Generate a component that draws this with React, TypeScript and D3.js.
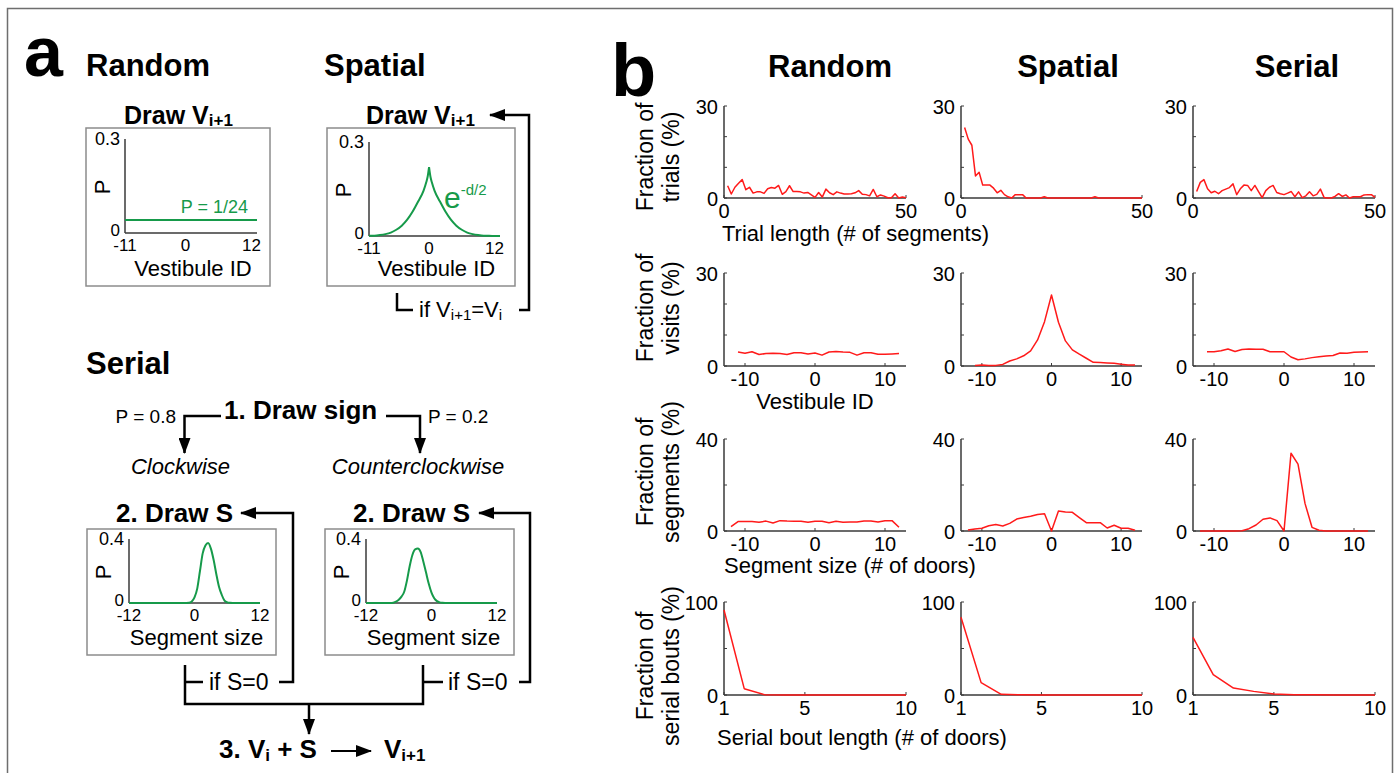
import React from "react";
import * as d3 from "d3";

const FONT = "'Liberation Sans', Arial, Helvetica, sans-serif";
const RED = "#ff1a1a";
const GREEN = "#169a4a";
const AXIS = "#3a3a3a";

// ---------------- panel b data ----------------
const columnTitles = ["Random", "Spatial", "Serial"];

const trialLengths = d3.range(1, 51);
const trialRandom = [
  4.0, 1.3, 3.5, 4.8, 6.0, 2.7, 3.5, 1.6, 2.0, 2.0,
  1.5, 3.0, 3.4, 3.2, 4.1, 1.2, 2.1, 4.0, 2.1, 2.1,
  2.0, 1.6, 1.8, 1.0, 0.2, 1.8, 0.3, 2.9, 1.7, 1.1,
  2.0, 1.6, 1.3, 1.3, 1.4, 1.7, 2.4, 1.2, 1.1, 0.7,
  2.8, 0.4, 1.0, 0.6, 0.1, 0.1, 1.4, 0.0, 0.3, 0.1,
];
const trialSpatial = [
  23, 19.2, 17.2, 7.2, 8.4, 4.2, 4.2, 4.2, 3.2, 1.7,
  2.5, 1.1, 0.4, 0, 1.1, 1.1, 1.1, 0, 0, 0,
  0, 0, 0.4, 0, 0, 0, 0, 0, 0, 0,
  0, 0, 0, 0, 0, 0, 0.4, 0, 0, 0,
  0, 0, 0, 0, 0, 0, 0, 0, 0, 0,
];
const trialSerial = [
  2.1, 5.1, 6.0, 3.0, 1.7, 2.2, 1.4, 2.4, 2.9, 3.4,
  4.6, 1.1, 3.0, 4.2, 4.1, 2.4, 4.1, 2.1, 0.1, 2.4,
  3.5, 4.1, 1.8, 1.4, 1.1, 1.6, 2.1, 0.4, 2.0, 0.1,
  0.7, 2.0, 0.7, 1.2, 2.9, 0.2, 0, 0, 0.5, 1.4,
  0.5, 1.0, 0, 0.4, 0.4, 0.4, 1.0, 1.1, 1.1, 0.2,
];

const vestibuleIds = d3.range(-11, 13);
const visitRandom = [4.5, 4.1, 4.6, 3.7, 4.0, 4.1, 4.0, 3.7, 4.3, 4.3, 3.9, 4.2, 3.5, 4.5, 4.7, 4.5, 4.4, 3.5, 4.3, 4.3, 3.8, 3.8, 3.9, 4.0];
const visitSpatial = [0.2, 0.3, 0.2, 0.2, 0.5, 1.6, 2.3, 3.3, 4.9, 8.4, 14.3, 22.9, 14.1, 8.1, 5.2, 3.8, 2.5, 1.2, 1.1, 1.0, 0.9, 0.6, 0.3, 0.3];
const visitSerial = [4.6, 4.6, 4.9, 5.5, 4.7, 5.3, 5.5, 5.4, 5.4, 4.6, 4.6, 4.6, 2.9, 2.0, 2.3, 2.7, 3.0, 3.2, 3.4, 4.2, 4.1, 4.4, 4.5, 4.6];

const segmentSizes = d3.range(-12, 13);
const segRandom = [1.9, 4.1, 4.1, 4.1, 3.8, 4.3, 3.5, 4.5, 4.3, 4.2, 4.2, 3.8, 4.2, 4.2, 3.6, 4.2, 3.8, 3.9, 3.9, 4.3, 4.3, 3.9, 4.5, 4.5, 1.6];
const segSpatial = [0.4, 0.9, 1.2, 2.3, 2.8, 2.2, 3.3, 5.2, 5.9, 6.4, 7.2, 7.5, 0, 8.7, 8.3, 8.1, 5.8, 3.6, 3.6, 3.6, 1.3, 2.5, 1.2, 1.2, 0.3];
const segSerial = [0, 0, 0, 0, 0, 0, 0.1, 1.0, 2.6, 5.1, 5.7, 4.5, 0, 33.8, 29.1, 12.0, 1.6, 0.3, 0, 0, 0, 0, 0, 0, 0];

const boutLengths = d3.range(1, 11);
const boutRandom = [91.4, 6.8, 0.4, 0, 0, 0, 0, 0, 0, 0];
const boutSpatial = [83.5, 13.3, 0.7, 0.2, 0, 0, 0, 0, 0, 0];
const boutSerial = [62, 21.9, 7.5, 3.9, 1.0, 0.3, 0.2, 0, 0, 0];

// ---------------- panel a data ----------------
const uniformP = 1 / 24;
const kernelD = [-11, -10, -9, -8, -7, -6, -5, -4, -3, -2, -1, -0.5, -0.25, 0, 0.25, 0.5, 1, 2, 3, 4, 5, 6, 7, 8, 9, 10, 11, 12, 13];
const kernelP = [0.0005, 0.001, 0.003, 0.006, 0.011, 0.02, 0.033, 0.052, 0.078, 0.11, 0.145, 0.172, 0.19, 0.22, 0.19, 0.172, 0.145, 0.11, 0.078, 0.052, 0.033, 0.02, 0.011, 0.006, 0.003, 0.001, 0.0005, 0.0003, 0.0002];

const cwS = [-12, -2, -1, -0.5, 0, 0.5, 1, 1.5, 2, 2.5, 3, 3.5, 4, 4.5, 5, 5.5, 6, 6.5, 7, 12];
const cwP = [0, 0, 0.002, 0.01, 0.035, 0.09, 0.2, 0.31, 0.36, 0.375, 0.34, 0.27, 0.18, 0.1, 0.05, 0.015, 0.004, 0.001, 0, 0];
const ccwS = [-12, -7.5, -7, -6.5, -6, -5.5, -5, -4.5, -4, -3.5, -3, -2.5, -2, -1.5, -1, -0.5, 0, 0.5, 1, 1.5, 2, 2.5, 12];
const ccwP = [0, 0, 0.002, 0.008, 0.02, 0.04, 0.07, 0.14, 0.23, 0.3, 0.335, 0.34, 0.32, 0.26, 0.19, 0.12, 0.065, 0.03, 0.012, 0.004, 0.001, 0, 0];

// ---------------- layout ----------------
const colX = [[724, 906], [961, 1142], [1193, 1375]];

const rowsB = [
  {
    y: [198, 106], xDomain: [0, 50], yDomain: [0, 30], yTicks: [0, 10, 20, 30], xLabels: [0, 50],
    xs: trialLengths, series: [trialRandom, trialSpatial, trialSerial],
    ylab: ["Fraction of", "trials (%)"], ylabY: 157,
    xlab: "Trial length (# of segments)", xlabX: 722, xlabY: 241, anchor: "start",
  },
  {
    y: [366, 273], xDomain: [-13, 13], yDomain: [0, 30], yTicks: [0, 10, 20, 30], xLabels: [-10, 0, 10],
    xs: vestibuleIds, series: [visitRandom, visitSpatial, visitSerial],
    ylab: ["Fraction of", "visits (%)"], ylabY: 308,
    xlab: "Vestibule ID", xlabX: 815, xlabY: 409, anchor: "middle",
  },
  {
    y: [531, 439], xDomain: [-13, 13], yDomain: [0, 40], yTicks: [0, 20, 40], xLabels: [-10, 0, 10],
    xs: segmentSizes, series: [segRandom, segSpatial, segSerial],
    ylab: ["Fraction of", "segments (%)"], ylabY: 472,
    xlab: "Segment size (# of doors)", xlabX: 724, xlabY: 573, anchor: "start",
  },
  {
    y: [695, 602], xDomain: [1, 10], yDomain: [0, 100], yTicks: [0, 50, 100], xLabels: [1, 5, 10],
    xs: boutLengths, series: [boutRandom, boutSpatial, boutSerial],
    ylab: ["Fraction of", "serial bouts (%)"], ylabY: 666,
    xlab: "Serial bout length (# of doors)", xlabX: 717, xlabY: 745, anchor: "start",
  },
];

function CellB({ row, ci }: any) {
  const [x0, x1] = colX[ci];
  const x = d3.scaleLinear().domain(row.xDomain).range([x0, x1]);
  const y = d3.scaleLinear().domain(row.yDomain).range(row.y);
  const line = d3
    .line<number>()
    .x((_, i) => x(row.xs[i]))
    .y((d) => y(d));
  const yTop = row.yTicks[row.yTicks.length - 1];
  return (
    <g>
      <line x1={x0} x2={x1} y1={row.y[0]} y2={row.y[0]} stroke={AXIS} strokeWidth={1.5} />
      <line x1={x0} x2={x0} y1={row.y[0]} y2={row.y[1]} stroke={AXIS} strokeWidth={1.5} />
      {row.yTicks.map((t: number) => (
        <line key={"yt" + t} x1={x0} x2={x0 + 3} y1={y(t)} y2={y(t)} stroke={AXIS} strokeWidth={1} />
      ))}
      {row.xLabels.map((t: number) => (
        <line key={"xt" + t} x1={x(t)} x2={x(t)} y1={row.y[0]} y2={row.y[0] - 3} stroke={AXIS} strokeWidth={1} />
      ))}
      {[row.yDomain[0], yTop].map((t: number) => (
        <text key={"yl" + t} x={x0 - 6} y={y(t) + 8} textAnchor="end" fontSize={20}>
          {t}
        </text>
      ))}
      {row.xLabels.map((t: number) => (
        <text key={"xl" + t} x={x(t)} y={row.y[0] + 20} textAnchor="middle" fontSize={20}>
          {t}
        </text>
      ))}
      <path d={line(row.series[ci]) || ""} fill="none" stroke={RED} strokeWidth={1.5} strokeLinejoin="round" />
    </g>
  );
}

function Arrow({ pts, w = 2.5 }: { pts: number[][]; w?: number }) {
  return (
    <polyline
      points={pts.map((p) => p.join(",")).join(" ")}
      fill="none"
      stroke="#000"
      strokeWidth={w}
      markerEnd="url(#ah)"
    />
  );
}

function Poly({ pts }: { pts: number[][] }) {
  return <polyline points={pts.map((p) => p.join(",")).join(" ")} fill="none" stroke="#000" strokeWidth={2.5} />;
}

function SmallBox({ box, ax, xDomain, yRange, yTop, xTicks, xlab, children }: any) {
  const x = d3.scaleLinear().domain(xDomain).range(ax);
  const y = d3.scaleLinear().domain([0, yTop]).range(yRange);
  return (
    <g>
      <rect x={box[0]} y={box[1]} width={box[2] - box[0]} height={box[3] - box[1]} fill="#fff" stroke="#8c8c8c" strokeWidth={1.5} />
      <line x1={ax[0]} x2={ax[1]} y1={yRange[0]} y2={yRange[0]} stroke={AXIS} strokeWidth={1.5} />
      <line x1={ax[0]} x2={ax[0]} y1={yRange[0]} y2={yRange[1]} stroke={AXIS} strokeWidth={1.5} />
      <text x={ax[0] - 5} y={y(yTop) + 6} textAnchor="end" fontSize={18}>{yTop}</text>
      <text x={ax[0] - 5} y={y(0) + 3} textAnchor="end" fontSize={17}>0</text>
      {xTicks.map((t: number) => (
        <text key={t} x={x(t)} y={yRange[0] + 18} textAnchor="middle" fontSize={17}>{t}</text>
      ))}
      <text x={(ax[0] + ax[1]) / 2 + 2} y={box[3] - 10} textAnchor="middle" fontSize={22}>{xlab}</text>
      <text transform={`translate(${box[0] + 24},${(yRange[0] + yRange[1]) / 2 + 1}) rotate(-90)`} textAnchor="middle" fontSize={22}>P</text>
      {children(x, y)}
    </g>
  );
}

export default function App() {
  const curve = (xsArr: number[], ysArr: number[], x: any, y: any) =>
    d3
      .line<number>()
      .x((_, i) => x(xsArr[i]))
      .y((d) => y(d))
      .curve(d3.curveMonotoneX)(ysArr) || "";

  const zeroIdx = kernelD.indexOf(0);

  return (
    <svg width={1400} height={773} style={{ position: "absolute", left: 0, top: 0, background: "#fff" }} fontFamily={FONT}>
      <defs>
        <marker id="ah" markerUnits="userSpaceOnUse" markerWidth={16} markerHeight={12} refX={15} refY={6} orient="auto">
          <path d="M0,0 L16,6 L0,12 Z" fill="#000" />
        </marker>
      </defs>
      <rect width={1400} height={773} fill="#fff" />
      <path d="M7.5,773 V8.5 H1392.5 V773" fill="none" stroke="#6e6e6e" strokeWidth={1.5} />

      {/* ---------------- panel a ---------------- */}
      <text x={24} y={76} fontSize={70} fontWeight="bold">a</text>
      <text x={86} y={76} fontSize={31} fontWeight="bold">Random</text>
      <text x={324} y={76} fontSize={31} fontWeight="bold">Spatial</text>

      <text x={124} y={124} fontSize={25} fontWeight="bold">
        Draw V<tspan fontSize={17} dy={2}>i+1</tspan>
      </text>
      <text x={366} y={124} fontSize={25} fontWeight="bold">
        Draw V<tspan fontSize={17} dy={2}>i+1</tspan>
      </text>

      <SmallBox box={[86, 128, 270, 286]} ax={[125, 257]} xDomain={[-11, 13]} yRange={[233, 139]} yTop={0.3} xTicks={[-11, 0, 12]} xlab="Vestibule ID">
        {(x: any, y: any) => (
          <g>
            <path d={`M${x(-11)},${y(uniformP)} H${x(13)}`} stroke={GREEN} strokeWidth={2} fill="none" />
            <text x={248} y={213} textAnchor="end" fontSize={18} fill={GREEN}>P = 1/24</text>
          </g>
        )}
      </SmallBox>

      <SmallBox box={[327, 128, 515, 286]} ax={[369, 500]} xDomain={[-11, 13]} yRange={[236, 142]} yTop={0.3} xTicks={[-11, 0, 12]} xlab="Vestibule ID">
        {(x: any, y: any) => (
          <g>
            <path d={curve(kernelD.slice(0, zeroIdx + 1), kernelP.slice(0, zeroIdx + 1), x, y)} stroke={GREEN} strokeWidth={2} fill="none" />
            <path d={curve(kernelD.slice(zeroIdx), kernelP.slice(zeroIdx), x, y)} stroke={GREEN} strokeWidth={2} fill="none" />
            <text x={444} y={208} fontSize={30} fill={GREEN}>
              e<tspan fontSize={15} dy={-13}>-d/2</tspan>
            </text>
          </g>
        )}
      </SmallBox>

      <Arrow pts={[[519, 310], [529, 310], [529, 115], [490, 115]]} />
      <Poly pts={[[397, 293], [397, 310], [413, 310]]} />
      <text x={419} y={317} fontSize={22}>
        if V<tspan fontSize={15} dy={3}>i+1</tspan>
        <tspan dy={-3}>=V</tspan>
        <tspan fontSize={15} dy={3}>i</tspan>
      </text>

      <text x={86} y={374} fontSize={31} fontWeight="bold">Serial</text>
      <text x={224} y={419} fontSize={26} fontWeight="bold">1. Draw sign</text>
      <Arrow pts={[[221, 416], [184.5, 416], [184.5, 453]]} />
      <Arrow pts={[[386, 416], [420, 416], [420, 453]]} />
      <text x={176} y={423} textAnchor="end" fontSize={19}>P = 0.8</text>
      <text x={428} y={423} fontSize={19}>P = 0.2</text>
      <text x={180.5} y={474} textAnchor="middle" fontSize={22} fontStyle="italic">Clockwise</text>
      <text x={418} y={474} textAnchor="middle" fontSize={22} fontStyle="italic">Counterclockwise</text>

      <text x={116} y={522} fontSize={26} fontWeight="bold">2. Draw S</text>
      <text x={353} y={522} fontSize={26} fontWeight="bold">2. Draw S</text>

      <SmallBox box={[87, 529, 276, 655]} ax={[129, 260]} xDomain={[-12, 12]} yRange={[603, 539]} yTop={0.4} xTicks={[-12, 0, 12]} xlab="Segment size">
        {(x: any, y: any) => <path d={curve(cwS, cwP, x, y)} stroke={GREEN} strokeWidth={2} fill="none" />}
      </SmallBox>
      <SmallBox box={[325, 529, 514, 655]} ax={[366, 497]} xDomain={[-12, 12]} yRange={[603, 539]} yTop={0.4} xTicks={[-12, 0, 12]} xlab="Segment size">
        {(x: any, y: any) => <path d={curve(ccwS, ccwP, x, y)} stroke={GREEN} strokeWidth={2} fill="none" />}
      </SmallBox>

      <Arrow pts={[[279, 682], [293, 682], [293, 513], [241, 513]]} />
      <Arrow pts={[[519, 682], [530, 682], [530, 513], [479, 513]]} />
      <text x={209} y={690} fontSize={23}>if S=0</text>
      <text x={448} y={690} fontSize={23}>if S=0</text>
      <Poly pts={[[185, 665], [185, 704], [423, 704], [423, 665]]} />
      <Poly pts={[[185, 682], [203, 682]]} />
      <Poly pts={[[423, 682], [443, 682]]} />
      <Arrow pts={[[309, 704], [309, 734]]} />

      <text x={219} y={758} fontSize={26} fontWeight="bold">
        3. V<tspan fontSize={17} dy={3}>i</tspan>
        <tspan dy={-3}> + S</tspan>
      </text>
      <Arrow pts={[[331, 751], [371, 751]]} w={2} />
      <text x={384} y={758} fontSize={26} fontWeight="bold">
        V<tspan fontSize={17} dy={3}>i+1</tspan>
      </text>

      {/* ---------------- panel b ---------------- */}
      <text x={611} y={96} fontSize={74} fontWeight="bold">b</text>
      {columnTitles.map((t, i) => (
        <text key={t} x={[830, 1068, 1297][i]} y={77} textAnchor="middle" fontSize={31} fontWeight="bold">
          {t}
        </text>
      ))}

      {rowsB.map((row, ri) => (
        <g key={ri}>
          {[0, 1, 2].map((ci) => (
            <CellB key={ci} row={row} ci={ci} />
          ))}
          <text transform={`translate(653,${row.ylabY}) rotate(-90)`} textAnchor="middle" fontSize={23}>
            {row.ylab[0]}
          </text>
          <text transform={`translate(679,${row.ylabY}) rotate(-90)`} textAnchor="middle" fontSize={23}>
            {row.ylab[1]}
          </text>
          <text x={row.xlabX} y={row.xlabY} textAnchor={row.anchor as any} fontSize={22}>
            {row.xlab}
          </text>
        </g>
      ))}
    </svg>
  );
}
